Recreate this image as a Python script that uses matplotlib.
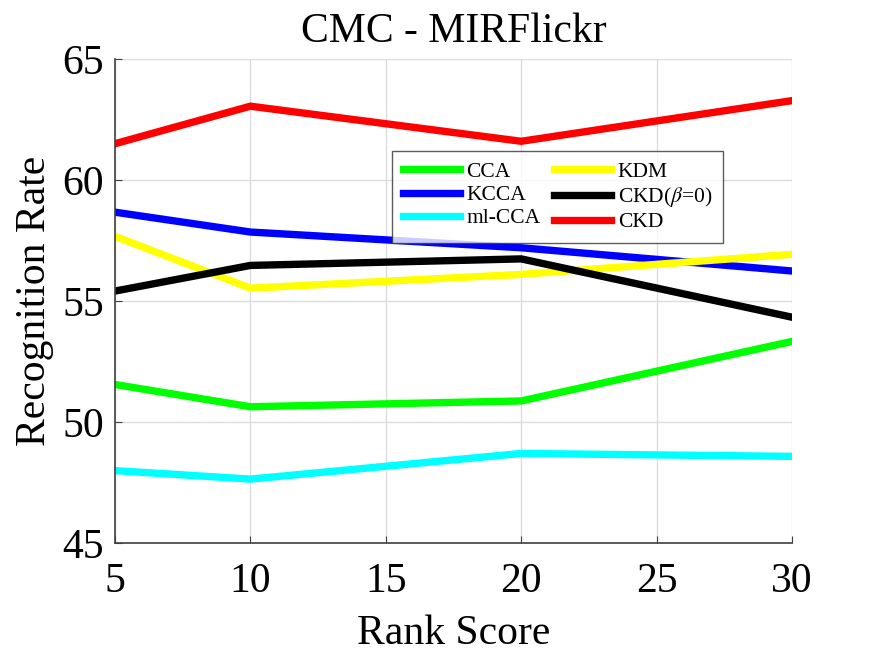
import numpy as np
import matplotlib
matplotlib.use('Agg')
import matplotlib.pyplot as plt

plt.rcParams['font.family'] = ['Liberation Serif', 'DejaVu Serif']
plt.rcParams['mathtext.fontset'] = 'stix'

#data
rank = [5, 10, 20, 30]
cca = [51.55, 50.63, 50.87, 53.33]
kcca = [58.67, 57.85, 57.2, 56.24]
mlcca = [47.99, 47.64, 48.7, 48.58]
kdm = [57.67, 55.53, 56.1, 56.93]
ckd_b0 = [55.41, 56.47, 56.74, 54.33]
ckd = [61.5, 63.05, 61.6, 63.28]

labels = ['CCA', 'KCCA', 'ml-CCA', 'KDM', r'CKD($\beta$=0)', 'CKD']
colors = ['#00ff00', '#0000ff', '#00ffff', '#ffff00', '#000000', '#ff0000']
series = [cca, kcca, mlcca, kdm, ckd_b0, ckd]

fig = plt.figure(figsize=(8.75, 6.57), dpi=100)
ax = fig.add_axes([115/875, 1-543/657, (792-115)/875, (543-59)/657])

for s, c, l in zip(series, colors, labels):
    ax.plot(rank, s, color=c, lw=5.3, label=l, solid_joinstyle='miter')

ax.set_xlim(5, 30)
ax.set_ylim(45, 65)
ax.set_xticks([5, 10, 15, 20, 25, 30])
ax.set_yticks([45, 50, 55, 60, 65])
ax.grid(color='#dcdcdc', lw=1)
ax.set_axisbelow(True)
for sp in ['top', 'right']:
    ax.spines[sp].set_visible(False)
for sp in ['left', 'bottom']:
    ax.spines[sp].set_color('#404040')
    ax.spines[sp].set_linewidth(1.2)
ax.tick_params(direction='in', length=5, color='#404040', labelsize=30)
ax.tick_params(axis='x', pad=14)
ax.tick_params(axis='y', pad=8)

ax.set_title('CMC - MIRFlickr', fontsize=30, pad=12)
ax.set_xlabel('Rank Score', fontsize=30, labelpad=10)
ax.set_ylabel('Recognition Rate', fontsize=30, labelpad=6)

leg = ax.legend(ncol=2, fontsize=15.5, loc='upper left',
                bbox_to_anchor=((392-115)/677, (543-151)/484),
                frameon=True, fancybox=False, edgecolor='#333333',
                handlelength=2.65, handletextpad=0.3, columnspacing=0.65,
                labelspacing=0.15, borderpad=0.5, borderaxespad=0)
leg.get_frame().set_linewidth(1.0)

plt.savefig('out.png', dpi=100)
